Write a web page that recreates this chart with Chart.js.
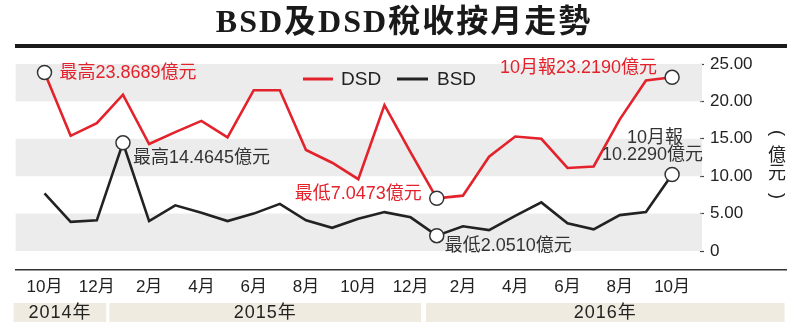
<!DOCTYPE html>
<html>
<head>
<meta charset="utf-8">
<script src="https://cdn.jsdelivr.net/npm/chart.js@4/dist/chart.umd.min.js"></script>
<style>
  html, body { margin: 0; padding: 0; background: #fff; }
  #wrap { width: 800px; height: 331px; position: relative; }
</style>
</head>
<body>
<div id="wrap"><canvas id="chart"></canvas></div>
<script>
const titleText = "BSD及DSD稅收按月走勢";
const monthLabels = ["10月", "12月", "2月", "4月", "6月", "8月", "10月", "12月", "2月", "4月", "6月", "8月", "10月"];
const yearLabels = ["2014年", "2015年", "2016年"];
// monthly values, Oct 2014 .. Oct 2016 (億元)
const dsd = [23.8689, 15.4, 17.1, 20.9, 14.3, 15.9, 17.4, 15.2, 21.5, 21.5, 13.5, 11.8, 9.6,
             19.5, 13.2, 7.0473, 7.4, 12.6, 15.3, 15.0, 11.1, 11.3, 17.6, 22.8, 23.2190];
const bsd = [7.7, 3.9, 4.1, 14.4645, 4.0, 6.1, 5.1, 4.0, 5.0, 6.3, 4.1, 3.1, 4.3,
             5.2, 4.5, 2.0510, 3.3, 2.8, 4.7, 6.5, 3.7, 2.9, 4.8, 5.2, 10.2290];
const yTicks = [0, 5, 10, 15, 20, 25];

const RED = "#e3222b";
const DARK = "#222222";
const FONT = "'Liberation Sans', 'Noto Sans CJK TC', sans-serif";

const dsdMarks = [0, 15, 24];
const bsdMarks = [3, 15, 24];

const toPoints = arr => arr.map((v, i) => ({ x: i, y: v }));

// background bands, title, frame, year row, annotations
const decor = {
  id: "decor",
  beforeDatasetsDraw(chart) {
    const { ctx, chartArea: a, scales: { y } } = chart;
    ctx.save();
    ctx.fillStyle = "#ececec";
    for (let v = 0; v < 25; v += 10) {
      const top = y.getPixelForValue(v + 5), bot = y.getPixelForValue(v);
      ctx.fillRect(a.left, top, a.right - a.left + 2, bot - top);
    }
    ctx.restore();
  },
  afterDraw(chart) {
    const { ctx, scales: { x, y } } = chart;
    ctx.save();
    // title
    ctx.fillStyle = "#1a1a1a";
    ctx.font = "bold 32px 'Liberation Serif', 'Noto Sans CJK TC', serif";
    ctx.textAlign = "center";
    ctx.textBaseline = "middle";
    try { ctx.letterSpacing = "2px"; } catch (e) {}
    ctx.fillText(titleText, 404, 24);
    try { ctx.letterSpacing = "0px"; } catch (e) {}
    ctx.fillRect(15, 44, 772, 4);
    // bottom axis line
    ctx.fillStyle = "#333";
    ctx.fillRect(15, 269, 772, 1.5);

    // year boxes
    const spans = [[-1.18, 2.36], [2.48, 14.4], [14.59, 28.3]];
    ctx.font = "18px " + FONT;
    try { ctx.letterSpacing = "1px"; } catch (e) {}
    spans.forEach((s, k) => {
      const l = x.getPixelForValue(s[0]), r = x.getPixelForValue(s[1]);
      ctx.fillStyle = "#efebe0";
      ctx.fillRect(l, 303, r - l, 19);
      ctx.fillStyle = DARK;
      ctx.fillText(yearLabels[k], (l + r) / 2, 313);
    });
    try { ctx.letterSpacing = "0px"; } catch (e) {}

    // y unit, vertical
    ctx.fillStyle = DARK;
    ctx.font = "18px " + FONT;
    ctx.fillText("億", 777, 156);
    ctx.fillText("元", 777, 174);
    [[133, "("], [196, ")"]].forEach(([py, ch]) => {
      ctx.save();
      ctx.translate(777, py);
      ctx.rotate(Math.PI / 2);
      ctx.fillText(ch, 0, 0);
      ctx.restore();
    });

    // legend
    ctx.lineWidth = 3;
    ctx.strokeStyle = RED;
    ctx.beginPath(); ctx.moveTo(303, 79); ctx.lineTo(333, 79); ctx.stroke();
    ctx.strokeStyle = DARK;
    ctx.beginPath(); ctx.moveTo(397, 79); ctx.lineTo(428, 79); ctx.stroke();
    ctx.font = "19px " + FONT;
    ctx.textAlign = "left";
    ctx.fillStyle = DARK;
    ctx.fillText("DSD", 341, 80);
    ctx.fillText("BSD", 437, 80);

    // annotations
    ctx.font = "18px " + FONT;
    const px = i => x.getPixelForValue(i);
    const note = (txt, i, v, dx, dy, align, color) => {
      ctx.fillStyle = color;
      ctx.textAlign = align;
      ctx.fillText(txt, px(i) + dx, y.getPixelForValue(v) + dy);
    };
    note("最高" + dsd[0].toFixed(4) + "億元", 0, dsd[0], 15, 1, "left", RED);
    note("最高" + bsd[3].toFixed(4) + "億元", 3, bsd[3], 10, 15, "left", "#333");
    note("最低" + dsd[15].toFixed(4) + "億元", 15, dsd[15], -15, -4, "right", RED);
    note("最低" + bsd[15].toFixed(4) + "億元", 15, bsd[15], 8, 10, "left", "#333");
    note("10月報" + dsd[24].toFixed(4) + "億元", 24, dsd[24], -15, -9, "right", RED);
    note("10月報", 24, bsd[24], 11, -36, "right", "#333");
    note(bsd[24].toFixed(4) + "億元", 24, bsd[24], 31, -19, "right", "#333");
    ctx.restore();
  }
};

const markRadius = marks => c => (marks.includes(c.dataIndex) ? 7 : 0);

new Chart(document.getElementById("chart"), {
  type: "line",
  data: {
    datasets: [
      {
        label: "DSD",
        data: toPoints(dsd),
        borderColor: RED,
        borderWidth: 2.6,
        pointRadius: markRadius(dsdMarks),
        pointBackgroundColor: "#fff",
        pointBorderColor: "#333",
        pointBorderWidth: 1.5,
        tension: 0,
      },
      {
        label: "BSD",
        data: toPoints(bsd),
        borderColor: DARK,
        borderWidth: 2.6,
        pointRadius: markRadius(bsdMarks),
        pointBackgroundColor: "#fff",
        pointBorderColor: "#333",
        pointBorderWidth: 1.5,
        tension: 0,
      },
    ],
  },
  options: {
    responsive: true,
    maintainAspectRatio: false,
    animation: false,
    layout: { padding: { left: 13, top: 64, right: 0, bottom: 0 } },
    plugins: {
      legend: { display: false },
      title: { display: false },
      tooltip: { enabled: false },
    },
    scales: {
      x: {
        type: "linear",
        min: -1.105,
        max: 25.067,
        grid: { display: false, drawTicks: false },
        border: { display: false },
        afterFit: s => { s.height = 80; },
        afterBuildTicks: s => { s.ticks = monthLabels.map((_, k) => ({ value: k * 2 })); },
        ticks: {
          autoSkip: false,
          maxRotation: 0,
          padding: 26,
          color: DARK,
          font: { family: FONT, size: 17 },
          callback: v => monthLabels[v / 2],
        },
      },
      y: {
        position: "right",
        min: 0,
        max: 25,
        afterFit: s => { s.width = 100; },
        afterBuildTicks: s => { s.ticks = yTicks.map(v => ({ value: v })); },
        grid: { drawOnChartArea: false, tickLength: 4, color: "#444", tickWidth: 1.2 },
        border: { display: false },
        ticks: {
          padding: 6,
          color: DARK,
          font: { family: FONT, size: 17 },
          callback: v => (v === 0 ? "0" : v.toFixed(2)),
        },
      },
    },
  },
  plugins: [decor],
});
</script>
</body>
</html>
